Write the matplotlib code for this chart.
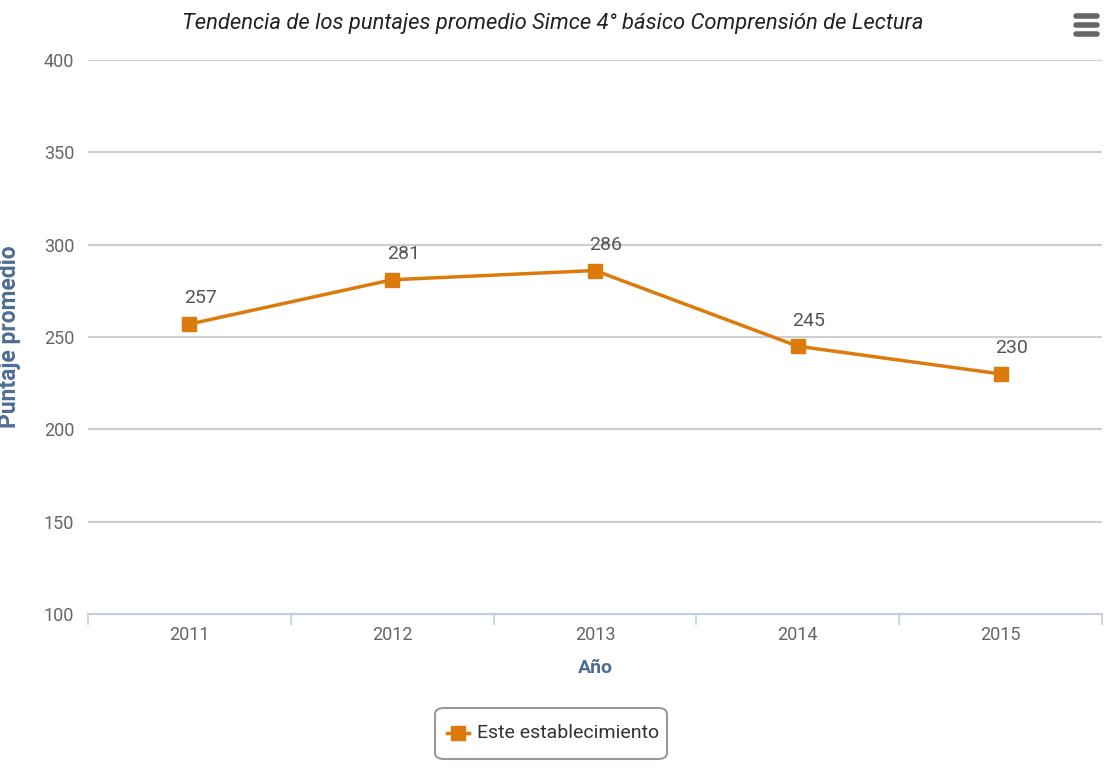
import matplotlib
matplotlib.use('Agg')
import matplotlib.pyplot as plt
from matplotlib.patches import FancyBboxPatch
from matplotlib.lines import Line2D

years = ['2011', '2012', '2013', '2014', '2015']
puntajes = [257, 281, 286, 245, 230]
y_ticks = [100, 150, 200, 250, 300, 350, 400]

orange = '#dd7a0c'
blue = '#4d6d95'
grey = '#666666'

plt.rcParams['font.family'] = ['Roboto', 'DejaVu Sans']

fig = plt.figure(figsize=(11.12, 7.84), dpi=100)
ax = fig.add_axes([88 / 1112, 1 - 614 / 784, 1014 / 1112, 554 / 784])

x = list(range(len(years)))
ax.plot(x, puntajes, color=orange, lw=2.5, marker='s', ms=10, zorder=3)
for xi, v in zip(x, puntajes):
    ax.annotate(str(v), (xi, v), xytext=(8, 12), textcoords='offset points',
                ha='center', va='bottom', fontsize=14, color='#555555')

ax.set_xlim(-0.5, 4.5)
ax.set_ylim(100, 400)
ax.set_yticks(y_ticks)
ax.yaxis.grid(True, color='#cfcfcf', lw=1.5)
ax.set_axisbelow(True)
ax.tick_params(axis='y', length=0, labelsize=13, labelcolor=grey, pad=10)

ax.set_xticks(x)
ax.set_xticklabels(years)
ax.set_xticks([i - 0.5 for i in range(len(years) + 1)], minor=True)
ax.tick_params(axis='x', which='major', length=0, labelsize=13, labelcolor=grey, pad=9)
ax.tick_params(axis='x', which='minor', length=8, color='#c0d0e0', width=1.2)

for s in ['top', 'right', 'left']:
    ax.spines[s].set_visible(False)
ax.spines['bottom'].set_color('#c0d0e0')
ax.spines['bottom'].set_linewidth(1.5)

ax.set_xlabel('Año', fontsize=14, fontweight='bold', color=blue)
ax.xaxis.set_label_coords(0.5, -(659 - 614) / 554)
ax.set_ylabel('Puntaje promedio', fontsize=16.5, fontweight='bold', color=blue)
ax.yaxis.set_label_coords(-(88 - 21) / 1014, (614 - 337) / 554)

fig.text(553 / 1112, 1 - 24 / 784, 'Tendencia de los puntajes promedio Simce 4° básico Comprensión de Lectura',
         ha='center', va='center', fontsize=15.8, style='italic', color='#222222')

# legend box
box = FancyBboxPatch((435 / 1112, 1 - 759 / 784), 232 / 1112, 51 / 784,
                     boxstyle='round,pad=0,rounding_size=0.008', transform=fig.transFigure,
                     facecolor='white', edgecolor='#999999', lw=1.5)
fig.add_artist(box)
fig.add_artist(Line2D([447 / 1112, 469 / 1112], [1 - 733 / 784] * 2, color=orange, lw=2.5,
                      transform=fig.transFigure))
fig.add_artist(Line2D([458 / 1112], [1 - 733 / 784], color=orange, marker='s', ms=10,
                      transform=fig.transFigure))
fig.text(477 / 1112, 1 - 733 / 784, 'Este establecimiento', ha='left', va='center',
         fontsize=14, color='#333333')

# menu icon
for yy in [16, 25, 34]:
    fig.add_artist(Line2D([1076 / 1112, 1097 / 1112], [1 - yy / 784] * 2, color='#666666',
                          lw=4, solid_capstyle='round', transform=fig.transFigure))

fig.savefig('out.png', dpi=100)
